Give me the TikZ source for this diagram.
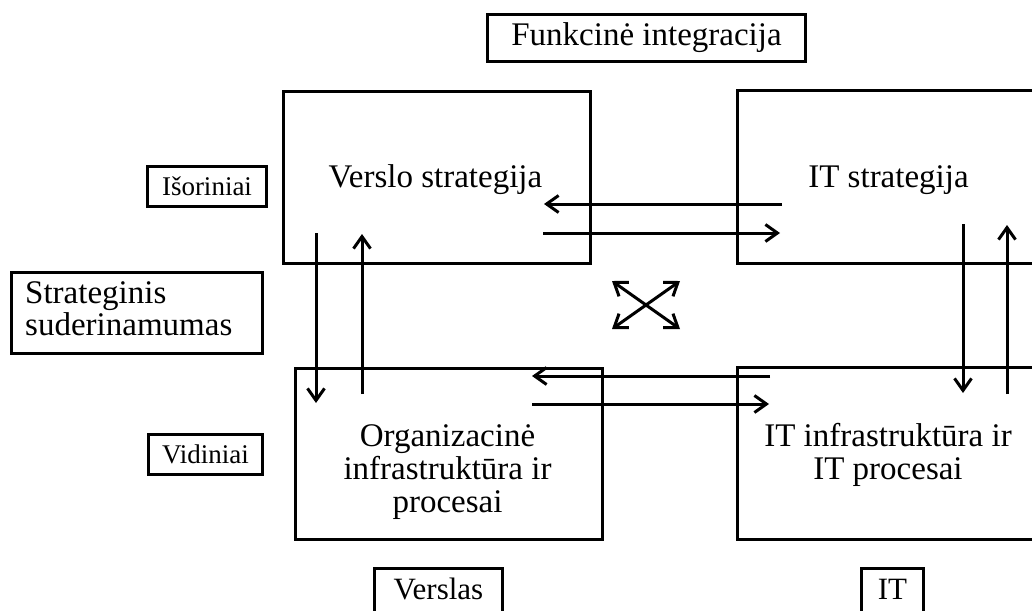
\documentclass[tikz,border=0pt]{standalone}
\usepackage{fontspec}
\setmainfont{Liberation Serif}
\usetikzlibrary{arrows.meta}
\tikzset{
  box/.style={draw, line width=3.2pt, inner sep=0pt, anchor=north west},
  lbl/.style={draw, line width=3pt, inner sep=0pt, anchor=north west},
  bigtext/.style={font=\fontsize{33}{33}\selectfont, inner sep=0pt},
  smalltext/.style={font=\fontsize{27}{27}\selectfont},
  midtext/.style={font=\fontsize{33}{33}\selectfont},
  barb/.tip={Straight Barb[length=12pt,width=17pt,line width=3pt]},
  arr/.style={line width=3pt, -barb},
  darr/.style={line width=3pt, barb-barb}
}
\begin{document}
\begin{tikzpicture}[x=1pt, y=-1pt]
\useasboundingbox (0,0) rectangle (1032,610);
\fill[white] (0,0) rectangle (1032,610);
\clip (0,0) rectangle (1032,610);

% main boxes
\node[box, minimum width=307pt, minimum height=172pt] (vs) at (282,90) {};
\node[box, minimum width=310pt, minimum height=173pt] (its) at (736,89) {};
\node[box, minimum width=307pt, minimum height=171pt] (org) at (294,367) {};
\node[box, minimum width=310pt, minimum height=172pt] (iti) at (736,366) {};

% main texts (anchor=base is the baseline of the last line)
\node[bigtext, anchor=base] (vst) at (435.5,187) {Verslo strategija};
\node[bigtext, anchor=base] (itst) at (888.5,187) {IT strategija};
\node[bigtext, anchor=base, align=center] (orgt) at (447.5,512) {Organizacinė\\infrastruktūra ir\\procesai};
\node[bigtext, anchor=base, align=center] (itit) at (888,479) {IT infrastruktūra ir\\IT procesai};

% label boxes
\node[lbl, midtext, minimum width=318pt, minimum height=47pt] (funk) at (486,13) {Funkcinė integracija};
\node[lbl, smalltext, minimum width=119pt, minimum height=40pt] (isor) at (146,165) {Išoriniai};
\node[lbl, smalltext, minimum width=114pt, minimum height=40pt] (vid) at (147,433) {Vidiniai};
\node[lbl, minimum width=251pt, minimum height=81pt] (strat) at (10,271) {};
\node[font=\fontsize{33}{30}\selectfont, inner sep=0pt, anchor=base west, align=left] (stratt) at (25,335) {Strateginis\\suderinamumas};
\node[lbl, font=\fontsize{31}{31}\selectfont, minimum width=128pt, minimum height=47pt, text height=21pt, text depth=6pt] (versl) at (373,567) {Verslas};
\node[lbl, font=\fontsize{31}{31}\selectfont, minimum width=62pt, minimum height=47pt, text height=21pt, text depth=6pt] (itlab) at (860,567) {IT};

% arrow end points
\coordinate (t1s) at (782,204); \coordinate (t1e) at (544,204);
\coordinate (t2s) at (543,233); \coordinate (t2e) at (780,233);
\coordinate (b1s) at (770,376); \coordinate (b1e) at (532,376);
\coordinate (b2s) at (532,404); \coordinate (b2e) at (769,404);
\coordinate (l1s) at (316,233); \coordinate (l1e) at (316,403);
\coordinate (l2s) at (362,394); \coordinate (l2e) at (362,234);
\coordinate (r1s) at (963,224); \coordinate (r1e) at (963,393);
\coordinate (r2s) at (1007,394); \coordinate (r2e) at (1007,225);
\coordinate (xa) at (612,329); \coordinate (xb) at (680,281);
\coordinate (xc) at (612,281); \coordinate (xd) at (680,329);

\draw[arr] (t1s) -- (t1e);
\draw[arr] (t2s) -- (t2e);
\draw[arr] (b1s) -- (b1e);
\draw[arr] (b2s) -- (b2e);
\draw[arr] (l1s) -- (l1e);
\draw[arr] (l2s) -- (l2e);
\draw[arr] (r1s) -- (r1e);
\draw[arr] (r2s) -- (r2e);
\draw[darr] (xa) -- (xb);
\draw[darr] (xc) -- (xd);
\end{tikzpicture}
\end{document}
